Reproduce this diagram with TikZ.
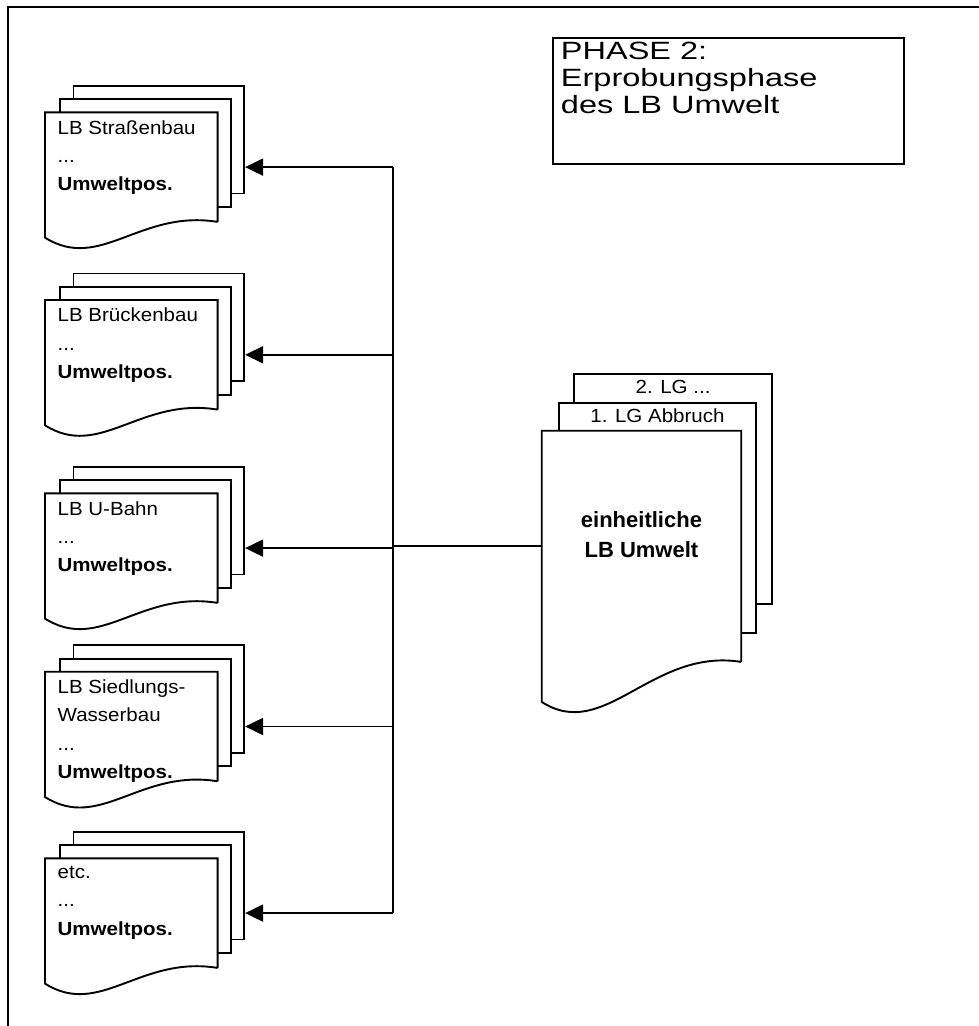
\documentclass[tikz,border=0pt]{standalone}
\usepackage{fontspec}
\setmainfont{Liberation Sans}
\newfontfamily\docfont[FakeStretch=1.08]{Liberation Sans}
\newfontfamily\phasefont[FakeStretch=1.3]{Liberation Sans}
\usetikzlibrary{arrows.meta,positioning}

\begin{document}
\begin{tikzpicture}[
    x=1pt, y=-1pt,
    line width=1.9pt,
    sheet/.style={draw, fill=white, inner sep=0pt, anchor=north west, minimum width=170.7pt, minimum height=107.7pt},
    bigsheet/.style={sheet, minimum width=197.6pt, minimum height=230pt},
    doctext/.style={align=left, inner sep=0pt, anchor=north west, font=\docfont\fontsize{19pt}{28.3pt}\selectfont},
    arrow/.style={-{Triangle[length=18pt, width=17pt]}}
]
\useasboundingbox (0,0) rectangle (979,1026);
% frame
\draw (8.3,1026) -- (8.3,6.7) -- (979,6.7);

% title box
\node[draw, minimum width=351.3pt, minimum height=126.6pt, inner sep=0pt, anchor=north west] (phase) at (552,36.7) {};
\node[align=left, inner sep=0pt, anchor=north west, font=\phasefont\fontsize{25pt}{27pt}\selectfont] (phasetxt) at (560,41.4) {PHASE 2:\\Erprobungsphase\\des LB Umwelt};

\coordinate (trunk) at (393,0);

% stacks of the single specifications
\foreach \name/\top/\txt in {
    strasse/112.3/{LB Straßenbau\\...\\\textbf{Umweltpos.}},
    bruecke/300/{LB Brückenbau\\...\\\textbf{Umweltpos.}},
    ubahn/493.3/{LB U-Bahn\\...\\\textbf{Umweltpos.}},
    wasser/671.7/{LB Siedlungs-\\Wasserbau\\...\\\textbf{Umweltpos.}},
    etc/858.3/{etc.\\...\\\textbf{Umweltpos.}}} {
  \node[sheet] (\name-back) at (72.5,\top-27.5) {};
  \node[sheet] (\name-mid) at (59,\top-14) {};
  \node[sheet, draw=none, fill=none] (\name) at (45,\top) {};
  \draw[fill=white] (\name.south east) -- (\name.north east) -- (\name.north west) -- ([yshift=-15.7pt]\name.south west)
    .. controls ([shift={(55pt,-50.3pt)}]\name.south west) and ([shift={(95pt,12.7pt)}]\name.south west) .. (\name.south east);
  \node[doctext] (\name-txt) at (56.7,\top+7.1) {\txt};
  \draw[arrow] (\name.east -| trunk) -- (\name.east -| \name-back.east);
}

% common specification
\node[bigsheet] (lbback) at (573.3,372.7) {};
\node[bigsheet] (lbmid) at (557.7,401.7) {};
\node[bigsheet, draw=none, fill=none, minimum height=229.3pt] (lbumwelt) at (541.7,430.7) {};
\draw[fill=white] (lbumwelt.south east) -- (lbumwelt.north east) -- (lbumwelt.north west) -- ([yshift=-40pt]lbumwelt.south west)
  .. controls ([shift={(63pt,-80.7pt)}]lbumwelt.south west) and ([shift={(110pt,14.3pt)}]lbumwelt.south west) .. (lbumwelt.south east);
\node[doctext, anchor=base] (lg2) at ([yshift=-20.3pt]lbback.north) {2. LG ...};
\node[doctext, anchor=base] (lg1) at ([yshift=-21pt]lbmid.north) {1. LG Abbruch};
\node[align=center, inner sep=0pt, anchor=north, font=\bfseries\fontsize{22pt}{30pt}\selectfont] (lbtxt) at ([yshift=-80pt]lbumwelt.north) {einheitliche\\LB Umwelt};

% connectors
\draw (lbumwelt.west) -- (lbumwelt.west -| trunk);
\draw (strasse.east -| trunk) -- (etc.east -| trunk);
\end{tikzpicture}
\end{document}
